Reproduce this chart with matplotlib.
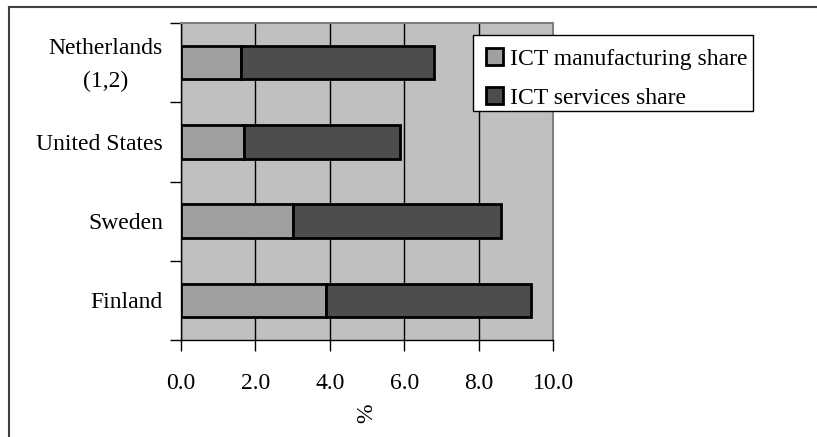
import matplotlib.pyplot as plt
from matplotlib.patches import Patch, Rectangle
from matplotlib.lines import Line2D
from matplotlib.transforms import ScaledTranslation

countries = ['Netherlands\n(1,2)', 'United States', 'Sweden', 'Finland']
manufacturing = [1.6, 1.7, 3.0, 3.9]
services = [5.2, 4.2, 5.6, 5.5]
x_ticks = [0, 2, 4, 6, 8, 10]

manuf_color = '#a0a0a0'
serv_color = '#4d4d4d'

plt.rcParams['font.family'] = 'Liberation Serif'
plt.rcParams['font.size'] = 17

fig = plt.figure(figsize=(8.17, 4.37), dpi=100)
ax = fig.add_axes([181/817, 1-340/437, 372/817, 317/437])
ax.set_facecolor('#c0c0c0')

# top category first
ypos = list(range(len(countries)))[::-1]
ax.barh(ypos, manufacturing, height=0.42, color=manuf_color,
        edgecolor='black', linewidth=2, zorder=3)
ax.barh(ypos, services, left=manufacturing, height=0.42, color=serv_color,
        edgecolor='black', linewidth=2, zorder=3)

ax.set_xlim(0, 10)
ax.set_ylim(-0.5, len(countries) - 0.5)
ax.set_xticks(x_ticks)
ax.set_xticklabels(['%.1f' % v for v in x_ticks])
ax.set_yticks(ypos)
ax.set_yticklabels(countries, linespacing=1.7)
ax.set_yticks([i - 0.5 for i in range(len(countries) + 1)], minor=True)
ax.tick_params(axis='y', which='major', length=0, pad=13)
ax.tick_params(axis='y', which='minor', length=8, width=1, direction='out')
ax.tick_params(axis='x', length=8, width=1, direction='out', pad=15.5)
for lab in ax.get_yticklabels():
    lab.set_horizontalalignment('right')
    lab.set_multialignment('center')
# two-line label sits a little higher
top_lab = ax.yaxis.get_major_ticks()[0].label1
top_lab.set_transform(top_lab.get_transform() +
                      ScaledTranslation(0, 4/72, fig.dpi_scale_trans))

ax.grid(axis='x', color='black', linewidth=1, zorder=1)
ax.set_axisbelow(True)
ax.set_xlabel('%', labelpad=7, rotation=90)

for s in ['top', 'right']:
    ax.spines[s].set_color('#808080')
    ax.spines[s].set_linewidth(1.5)
for s in ['left', 'bottom']:
    ax.spines[s].set_color('black')
    ax.spines[s].set_linewidth(1)

# legend box drawn separately so its width fits the text tightly
fig.add_artist(Rectangle((473/817, 1-111/437), 280/817, 76/437,
                         transform=fig.transFigure, facecolor='white',
                         edgecolor='black', linewidth=1, zorder=4))
handles = [Patch(facecolor=manuf_color, edgecolor='black', linewidth=2),
           Patch(facecolor=serv_color, edgecolor='black', linewidth=2)]
leg = fig.legend(handles, ['ICT manufacturing share', 'ICT services share'],
                 loc='upper left', bbox_to_anchor=(473/817, 1-35/437),
                 bbox_transform=fig.transFigure, borderaxespad=0,
                 frameon=False, handlelength=0.7, handleheight=0.7,
                 handletextpad=0.3, labelspacing=0.75, borderpad=0.55)
leg.set_zorder(5)

# outer frame lines
fig.add_artist(Line2D([9/817, 9/817], [0, 1-7/437], color='#404040', linewidth=1.5))
fig.add_artist(Line2D([9/817, 1], [1-7/437, 1-7/437], color='#404040', linewidth=1.5))

fig.savefig('out.png', dpi=100)
